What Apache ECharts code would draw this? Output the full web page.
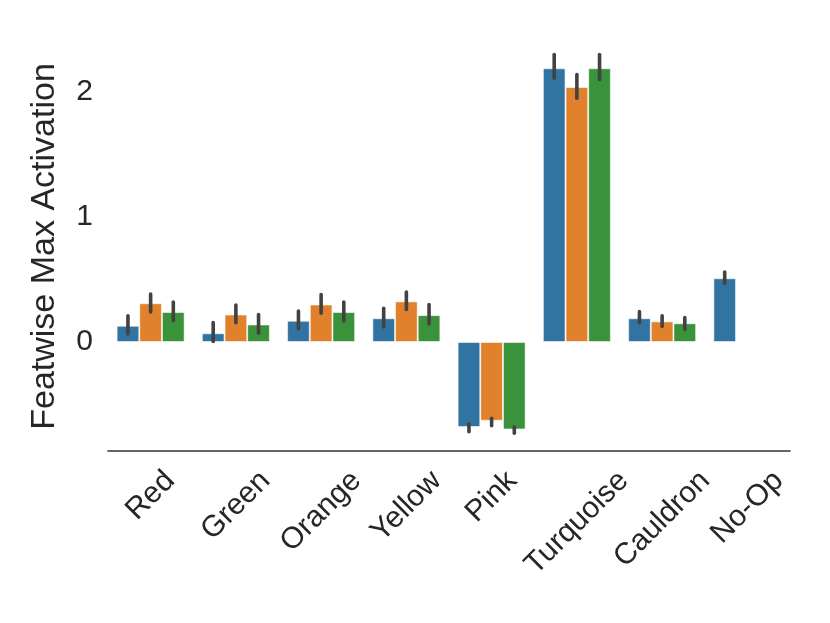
<!DOCTYPE html>
<html>
<head>
<meta charset="utf-8">
<script src="https://cdn.jsdelivr.net/npm/echarts@6/dist/echarts.min.js"></script>
<style>
html,body{margin:0;padding:0;background:#fff;}
#chart{width:830px;height:623px;}
</style>
</head>
<body>
<div id="chart"></div>
<script>
var categories = ['Red', 'Green', 'Orange', 'Yellow', 'Pink', 'Turquoise', 'Cauldron', 'No-Op'];
var yTicks = [0, 1, 2];

var valuesA = [0.13, 0.07, 0.17, 0.19, -0.68, 2.19, 0.19, 0.51];
var valuesB = [0.31, 0.22, 0.30, 0.325, -0.63, 2.04, 0.165, null];
var valuesC = [0.24, 0.14, 0.24, 0.215, -0.70, 2.19, 0.15, null];

var lowA = [0.065, 0.005, 0.104, 0.12, -0.717, 2.11, 0.155, 0.47];
var highA = [0.21, 0.155, 0.248, 0.27, -0.656, 2.30, 0.243, 0.56];
var lowB = [0.24, 0.155, 0.23, 0.26, -0.67, 1.95, 0.125, null];
var highB = [0.384, 0.296, 0.38, 0.40, -0.61, 2.14, 0.21, null];
var lowC = [0.17, 0.07, 0.168, 0.146, -0.73, 2.10, 0.10, null];
var highC = [0.32, 0.22, 0.32, 0.30, -0.68, 2.30, 0.195, null];

var colors = ['#3274a1', '#e1812c', '#3a923a'];
var textColor = '#262626';
var fontFamily = '"Liberation Sans", Arial, sans-serif';
var tickFont = 30;

var errData = [];
[[lowA, highA], [lowB, highB], [lowC, highC]].forEach(function (pair, h) {
  for (var i = 0; i < categories.length; i++) {
    if (pair[0][i] != null) errData.push([i, pair[0][i], pair[1][i], h]);
  }
});

var chart = echarts.init(document.getElementById('chart'), null, {renderer: 'canvas'});

function barSeries(name, data, color) {
  return {
    type: 'bar', name: name, data: data,
    barWidth: '26.6%', barGap: '0%',
    itemStyle: {color: color, borderColor: 'rgba(255,255,255,0.55)', borderWidth: 1},
    emphasis: {disabled: true}
  };
}

var option = {
  animation: false,
  backgroundColor: '#ffffff',
  grid: {left: 108, right: 40, top: 42, bottom: 172},
  xAxis: {
    type: 'category', data: categories,
    axisLine: {onZero: false, lineStyle: {color: '#333333', width: 1.6}},
    axisTick: {show: false},
    axisLabel: {show: false},
    splitLine: {show: false}
  },
  yAxis: {
    type: 'value', min: -0.872, max: 2.4, splitNumber: 3,
    name: 'Featwise Max Activation', nameLocation: 'middle', nameRotate: 90, nameGap: 46,
    nameTextStyle: {fontSize: 34, color: textColor, fontFamily: fontFamily},
    axisLine: {show: false}, axisTick: {show: false}, splitLine: {show: false},
    axisLabel: {
      showMinLabel: false, showMaxLabel: false,
      fontSize: tickFont, color: textColor, fontFamily: fontFamily, margin: 15,
      formatter: function (v) { return yTicks.indexOf(Math.round(v * 1000) / 1000) >= 0 ? String(Math.round(v)) : ''; }
    }
  },
  series: [
    barSeries('A', valuesA, colors[0]),
    barSeries('B', valuesB, colors[1]),
    barSeries('C', valuesC, colors[2]),
    {
      type: 'custom', name: 'err', data: errData, z: 10,
      encode: {x: 0, y: [1, 2]},
      renderItem: function (params, api) {
        var c = api.value(0), lo = api.value(1), hi = api.value(2), h = api.value(3);
        var band = api.size([1, 0])[0];
        var off = (h - 1) * band * 0.266;
        var p1 = api.coord([c, lo]);
        var p2 = api.coord([c, hi]);
        return {
          type: 'line',
          shape: {x1: p1[0] + off, y1: p1[1], x2: p2[0] + off, y2: p2[1]},
          style: {stroke: '#424242', lineWidth: 3.6, lineCap: 'round'}
        };
      }
    }
  ]
};
chart.setOption(option);

// rotated x tick labels, centred on each tick like matplotlib (rotation=45, ha=center, va=top)
var ctx = document.createElement('canvas').getContext('2d');
ctx.font = tickFont + 'px ' + fontFamily;
var labelTop = 464;
var s = Math.SQRT1_2;
var graphics = categories.map(function (cat, i) {
  var x = chart.convertToPixel({xAxisIndex: 0}, i);
  var L = ctx.measureText(cat).width;
  var hgt = tickFont * 1.15;
  var cy = labelTop + (L + hgt) * s / 2;
  return {
    type: 'text', x: x, y: cy, rotation: Math.PI / 4, silent: true,
    style: {
      text: cat, fill: textColor, fontSize: tickFont, fontFamily: fontFamily,
      align: 'center', verticalAlign: 'middle', textAlign: 'center', textVerticalAlign: 'middle'
    }
  };
});
chart.setOption({graphic: graphics});
</script>
</body>
</html>
